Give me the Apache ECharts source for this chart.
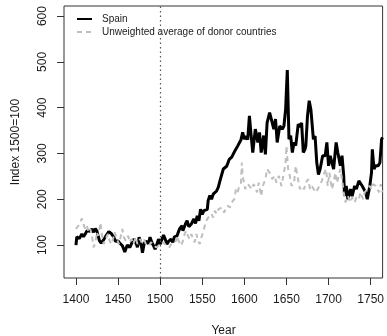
<!DOCTYPE html>
<html>
<head>
<meta charset="utf-8">
<script src="https://cdn.jsdelivr.net/npm/echarts@6/dist/echarts.min.js"></script>
<style>
html,body{margin:0;padding:0;background:#fff;}
#chart{width:387px;height:336px;}
</style>
</head>
<body>
<div id="chart"></div>
<script>
// ---- data ----
var spainYears = [1400,1401,1402,1404,1406,1407,1409,1411,1413,1415,1417,1419,1421,1423,1425,1426,1428,1430,1431,1433,1435,1437,1439,1440,1442,1444,1445,1447,1449,1450,1452,1454,1455,1457,1458,1460,1461,1462,1464,1466,1467,1469,1470,1472,1473,1475,1477,1478,1479,1481,1483,1484,1486,1488,1490,1492,1494,1495,1497,1498,1500,1502,1504,1505,1507,1508,1510,1513,1515,1517,1518,1520,1523,1526,1527,1530,1532,1534,1537,1540,1542,1544,1546,1548,1550,1552,1554,1556,1557,1559,1561,1563,1565,1567,1569,1571,1573,1575,1577,1579,1582,1585,1588,1590,1592,1594,1596,1598,1600,1602,1604,1606,1607,1608,1610,1613,1614,1616,1618,1620,1623,1625,1627,1630,1632,1635,1637,1639,1642,1645,1647,1649,1651,1653,1655,1657,1659,1661,1664,1666,1668,1670,1672,1673,1675,1677,1679,1682,1684,1686,1688,1690,1693,1696,1698,1700,1702,1704,1706,1709,1711,1714,1716,1718,1719,1721,1723,1726,1728,1731,1733,1736,1738,1740,1742,1744,1746,1749,1751,1752,1754,1756,1759,1761,1763,1764];
var spainValues = [100,118,122,114,118,124,118,124,131,127,130,135,128,136,130,122,109,104,106,112,118,124,129,128,125,121,117,108,112,109,104,100,99,90,85,95,100,103,95,103,108,113,108,101,95,117,104,95,83,103,109,106,103,117,106,99,91,96,106,113,102,106,122,124,108,102,108,113,106,118,122,120,135,142,131,146,153,140,146,157,147,164,153,178,167,175,174,178,197,208,200,211,208,218,226,240,244,266,268,272,287,292,303,304,316,318,330,346,331,338,330,382,378,340,302,353,345,324,346,302,339,298,367,389,375,353,375,324,360,353,360,396,482,331,339,302,324,317,364,358,367,302,309,317,382,415,396,331,338,280,254,266,295,295,324,273,295,280,266,324,302,273,295,251,207,229,200,222,207,229,222,240,244,229,222,215,200,229,258,309,266,273,273,280,331,335];

var donorYears = [1400,1402,1404,1405,1407,1409,1411,1413,1415,1417,1419,1421,1423,1425,1426,1428,1429,1431,1433,1435,1438,1440,1442,1444,1446,1448,1451,1453,1455,1457,1459,1462,1464,1466,1468,1471,1473,1476,1478,1481,1483,1487,1489,1492,1495,1497,1500,1502,1504,1507,1509,1511,1513,1516,1519,1520,1522,1525,1527,1529,1531,1533,1535,1537,1539,1541,1543,1545,1547,1549,1551,1553,1555,1557,1559,1561,1563,1565,1567,1569,1571,1573,1576,1578,1580,1583,1585,1588,1590,1592,1594,1596,1597,1598,1601,1604,1606,1609,1611,1613,1615,1617,1620,1622,1625,1627,1630,1633,1636,1638,1641,1644,1647,1649,1650,1652,1654,1656,1659,1661,1663,1666,1668,1671,1673,1676,1678,1680,1682,1685,1687,1689,1692,1695,1697,1699,1701,1704,1706,1708,1710,1714,1716,1718,1720,1723,1726,1728,1731,1733,1736,1738,1741,1743,1746,1749,1751,1753,1756,1758,1760,1762,1764];
var donorValues = [135,140,145,149,158,145,135,142,128,135,120,95,106,128,120,135,149,120,102,113,124,109,102,113,128,117,102,117,135,117,109,120,106,113,102,117,102,113,106,113,102,99,106,102,95,99,100,102,106,99,95,95,102,106,109,120,109,99,109,124,131,120,113,124,113,106,124,109,102,117,128,142,153,160,157,168,160,175,168,178,178,182,171,180,186,182,193,200,222,215,229,236,280,251,222,233,229,222,233,226,215,236,207,229,244,266,258,244,251,236,251,229,258,280,316,266,251,229,236,273,251,222,229,222,236,244,222,229,226,215,222,229,240,258,266,229,258,222,236,258,236,266,244,215,193,207,193,204,193,204,200,215,200,215,222,229,222,233,229,222,215,233,215];

var xTicks = [1400,1450,1500,1550,1600,1650,1700,1750];
var yTicks = [100,200,300,400,500,600];
var seriesNames = ['Spain','Unweighted average of donor countries'];

function pairs(xs, ys){ var out=[]; for(var i=0;i<xs.length;i++) out.push([xs[i], ys[i]]); return out; }

var chart = echarts.init(document.getElementById('chart'), null, {renderer:'canvas'});
var font = 'Liberation Sans, Arial, sans-serif';
var ink = '#1a1a1a';
chart.setOption({
  animation:false,
  backgroundColor:'#ffffff',
  grid:{left:64,right:4,top:6,bottom:58,show:true,borderColor:'#333',borderWidth:1,backgroundColor:'transparent'},
  xAxis:{
    type:'value', min:1385.8, max:1764.2,
    axisLine:{show:false},
    splitLine:{show:false},
    axisTick:{show:true,length:7,lineStyle:{color:'#333'},customValues:xTicks},
    axisLabel:{show:true,margin:16,fontFamily:font,fontSize:12,color:ink,customValues:xTicks,
      formatter:function(v){return String(v);}}
  },
  yAxis:{
    type:'value', min:28, max:622,
    axisLine:{show:false},
    splitLine:{show:false},
    axisTick:{show:true,length:7,lineStyle:{color:'#333'},customValues:yTicks},
    axisLabel:{show:true,margin:15,rotate:90,fontFamily:font,fontSize:12,color:ink,customValues:yTicks,
      formatter:function(v){return String(v);}}
  },
  graphic:[
    {type:'text', x:16, y:142, rotation:Math.PI/2, style:{text:'Index 1500=100', font:'12px '+font, fill:ink, textAlign:'center', textVerticalAlign:'middle'}},
    {type:'text', x:223.5, y:331, style:{text:'Year', font:'12px '+font, fill:ink, textAlign:'center', textVerticalAlign:'middle'}},
    {type:'line', shape:{x1:77,y1:19,x2:92,y2:19}, style:{stroke:'#000',lineWidth:2}},
    {type:'line', shape:{x1:77,y1:32,x2:92,y2:32}, style:{stroke:'#bebebe',lineWidth:2,lineDash:[5,4]}},
    {type:'text', x:102, y:19, style:{text:seriesNames[0], font:'10px '+font, fill:ink, textAlign:'left', textVerticalAlign:'middle'}},
    {type:'text', x:102, y:32, style:{text:seriesNames[1], font:'10px '+font, fill:ink, textAlign:'left', textVerticalAlign:'middle'}}
  ],
  series:[
    {name:seriesNames[0], type:'line', data:pairs(spainYears, spainValues), symbol:'none', clip:true,
     lineStyle:{color:'#000',width:3}, itemStyle:{color:'#000'},
     markLine:{silent:true, symbol:'none', label:{show:false},
       lineStyle:{color:'#555',width:1.2,type:[1.5,3]}, data:[{xAxis:1500}]}},
    {name:seriesNames[1], type:'line', data:pairs(donorYears, donorValues), symbol:'none', clip:true,
     lineStyle:{color:'#bebebe',width:2,type:[5,4]}, itemStyle:{color:'#bebebe'}}
  ]
});
</script>
</body>
</html>
